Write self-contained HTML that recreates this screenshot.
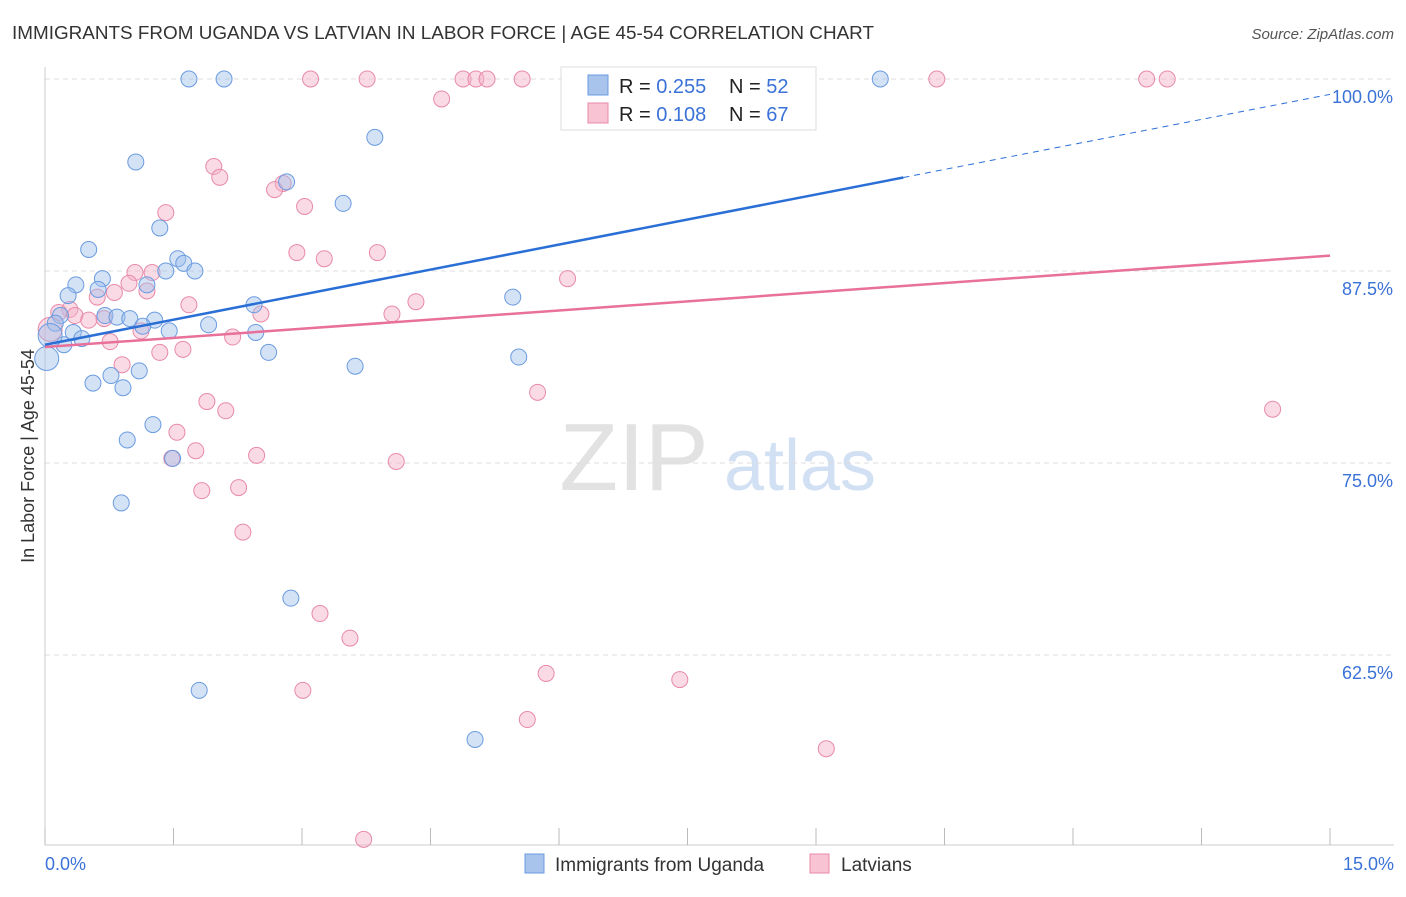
<!DOCTYPE html>
<html><head><meta charset="utf-8"><style>
body{margin:0;background:#fff;font-family:"Liberation Sans",sans-serif}
svg text{font-family:"Liberation Sans",sans-serif}
</style></head><body>
<svg id="chart" width="1406" height="892" xmlns="http://www.w3.org/2000/svg">
<text x="12" y="39" font-size="18.5" fill="#333" textLength="862" lengthAdjust="spacingAndGlyphs">IMMIGRANTS FROM UGANDA VS LATVIAN IN LABOR FORCE | AGE 45-54 CORRELATION CHART</text>
<text x="1394" y="39" font-size="15" fill="#555" font-style="italic" text-anchor="end">Source: ZipAtlas.com</text>
<text transform="translate(34,456) rotate(-90)" font-size="18" fill="#333" text-anchor="middle">In Labor Force | Age 45-54</text>
<g><text x="634" y="490" font-size="96" fill="#e2e2e2" font-family="Liberation Serif" text-anchor="middle">ZIP</text><text x="800" y="490" font-size="72" fill="#d2e0f4" text-anchor="middle">atlas</text></g>
<g id="grid"></g><g id="axes"></g><g id="marks"></g>
<g>
<rect x="561" y="67" width="255" height="63" fill="#fff" stroke="#ddd"/>
<rect x="588" y="75" width="20" height="20" fill="#a8c4ec" stroke="#6a9be0"/>
<rect x="588" y="103" width="20" height="20" fill="#f8c4d4" stroke="#e88aa8"/>
<text x="619" y="93" font-size="20" fill="#222">R = <tspan fill="#3a72d8">0.255</tspan></text>
<text x="729" y="93" font-size="20" fill="#222">N = <tspan fill="#3a72d8">52</tspan></text>
<text x="619" y="121" font-size="20" fill="#222">R = <tspan fill="#3a72d8"> 0.108</tspan></text>
<text x="729" y="121" font-size="20" fill="#222">N = <tspan fill="#3a72d8">67</tspan></text>
</g>
<g>
<rect x="525" y="854" width="19" height="19" fill="#a8c4ec" stroke="#6a9be0"/>
<text x="555" y="871" font-size="19" fill="#333">Immigrants from Uganda</text>
<rect x="810" y="854" width="19" height="19" fill="#f8c4d4" stroke="#e88aa8"/>
<text x="841" y="871" font-size="19" fill="#333">Latvians</text>
</g>
</svg>
<script>
const xTicks=[0,1.5,3,4.5,6,7.5,9,10.5,12,13.5,15];
const yTicks=[100,87.5,75,62.5];
const yTickLabels=["100.0%","87.5%","75.0%","62.5%"];
const blueX=[1.68,2.09,9.75,6.31,3.85,1.06,2.82,3.48,1.34,0.51,1.55,1.62,1.75,1.41,0.67,0.36,0.62,0.27,1.19,5.46,2.44,0.70,0.84,0.99,1.28,0.18,0.12,1.14,1.45,1.91,2.46,0.33,0.43,0.22,0.06,0.02,2.61,5.53,3.62,1.10,0.56,0.77,0.91,1.26,0.96,1.49,0.89,2.87,1.80,5.02,7.65];
const blueY=[100,100,100,99.2,96.2,94.6,93.3,91.9,90.3,88.9,88.3,88.0,87.5,87.5,87.0,86.6,86.3,85.9,86.6,85.8,85.3,84.6,84.5,84.4,84.3,84.6,84.1,83.9,83.6,84.0,83.5,83.5,83.1,82.7,83.3,81.8,82.2,81.9,81.3,81.0,80.2,80.7,79.9,77.5,76.5,75.3,72.4,66.2,60.2,57.0,100];
const pinkX=[3.10,3.76,4.88,5.03,5.16,5.57,10.41,12.86,13.10,4.63,1.97,2.04,2.78,2.68,3.03,1.41,2.94,3.88,3.26,1.25,1.05,0.98,1.19,6.10,0.81,0.61,1.68,4.33,4.05,2.52,0.29,0.35,0.16,0.51,0.69,1.12,2.19,0.76,1.34,1.61,0.90,5.75,14.33,1.89,2.11,1.54,1.76,1.48,2.47,4.10,1.83,2.26,2.31,3.21,3.56,5.85,7.41,3.01,5.63,9.12,3.72,0.06];
const pinkY=[100,100,100,100,100,100,100,100,100,98.7,94.3,93.6,93.2,92.8,91.7,91.3,88.7,88.7,88.3,87.4,87.4,86.7,86.2,87.0,86.1,85.8,85.3,85.5,84.7,84.7,85.0,84.6,84.8,84.3,84.4,83.6,83.2,82.9,82.2,82.4,81.4,79.6,78.5,79.0,78.4,77.0,75.8,75.3,75.5,75.1,73.2,73.4,70.5,65.2,63.6,61.3,60.9,60.2,58.3,56.4,50.5,83.7];
const blueTrend=[82.7,99.0];
const pinkTrend=[82.55,88.5];
const blueSolidEnd=10.02;
const NS="http://www.w3.org/2000/svg";
const X=v=>45+v/15*1285, Y=v=>79+(100-v)/12.5*192;
function mk(p,t,a){const e=document.createElementNS(NS,t);for(const k in a)e.setAttribute(k,a[k]);document.getElementById(p).appendChild(e);return e;}
yTicks.forEach((t,i)=>{
 const l=mk('grid','line',{x1:45,x2:1394,y1:Y(t),y2:Y(t),stroke:'#ddd','stroke-dasharray':'5,4'});
 
 
 const tx=mk('grid','text',{x:1393,y:Y(t)+24,'font-size':18,fill:'#3a72d8','text-anchor':'end'});tx.textContent=yTickLabels[i];
 
 
});
mk('axes','line',{x1:45,x2:45,y1:67,y2:845,stroke:'#ccc'});
mk('axes','line',{x1:45,x2:1394,y1:845,y2:845,stroke:'#ccc'});
xTicks.forEach(t=>{const l=mk('axes','line',{x1:X(t),x2:X(t),y1:828,y2:845,stroke:'#bbb'});
 
 });
let a=mk('axes','text',{x:45,y:870,'font-size':18,fill:'#3a72d8'});a.textContent=xTicks[0].toFixed(1)+'%';


a=mk('axes','text',{x:1394,y:870,'font-size':18,fill:'#3a72d8','text-anchor':'end'});a.textContent=xTicks[xTicks.length-1].toFixed(1)+'%';


function pts(xs,ys,fill,stroke,name){xs.forEach((x,i)=>{const big=(x<0.1);const c=mk('marks','circle',{cx:X(x),cy:Y(ys[i]),r:big?12:8,fill:fill,'fill-opacity':0.45,stroke:stroke,'stroke-width':1});
 
 });}
pts(pinkX,pinkY,'#f4b0c6','#e88aa8','latvian-point');
pts(blueX,blueY,'#a0bfea','#6a9be0','uganda-point');
const bAt=x=>blueTrend[0]+(blueTrend[1]-blueTrend[0])*x/15;
let t=mk('marks','line',{x1:X(0),y1:Y(bAt(0)),x2:X(blueSolidEnd),y2:Y(bAt(blueSolidEnd)),stroke:'#2a6fd6','stroke-width':2.5});


t=mk('marks','line',{x1:X(blueSolidEnd),y1:Y(bAt(blueSolidEnd)),x2:X(15),y2:Y(bAt(15)),stroke:'#2a6fd6','stroke-width':1,'stroke-dasharray':'6,5'});


t=mk('marks','line',{x1:X(0),y1:Y(pinkTrend[0]),x2:X(15),y2:Y(pinkTrend[1]),stroke:'#e8709a','stroke-width':2.5});


</script>
</body></html>
